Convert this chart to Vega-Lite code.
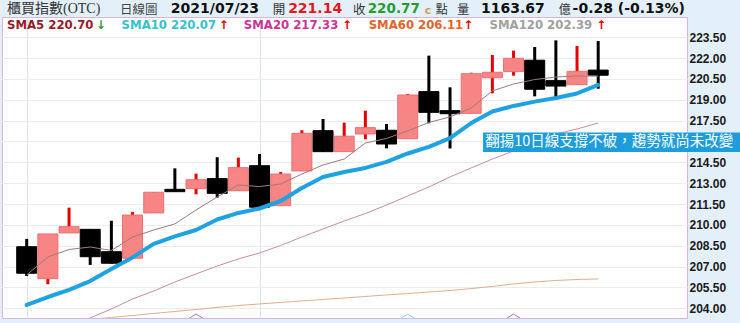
{
  "$schema": "https://vega.github.io/schema/vega-lite/v6.json",
  "width": 685,
  "height": 301,
  "autosize": {"type": "none"},
  "padding": {"left": 2, "top": 17, "right": 53, "bottom": 5},
  "background": "#e3f0f9",
  "config": {
    "view": {"stroke": "#d6b6de", "strokeWidth": 1, "fill": "white"}
  },
  "resolve": {"axis": {"x": "independent", "y": "independent"}},
  "datasets": {
    "candles": [
      {"i": 0, "open": 208.43, "high": 208.99, "low": 206.32, "close": 206.52},
      {"i": 1, "open": 206.13, "high": 209.35, "low": 205.73, "close": 209.35},
      {"i": 2, "open": 209.42, "high": 211.24, "low": 209.42, "close": 209.87},
      {"i": 3, "open": 209.68, "high": 209.68, "low": 207.12, "close": 207.71},
      {"i": 4, "open": 208.07, "high": 210.30, "low": 207.22, "close": 207.24},
      {"i": 5, "open": 207.60, "high": 210.93, "low": 207.60, "close": 210.71},
      {"i": 6, "open": 210.86, "high": 212.35, "low": 210.86, "close": 212.35},
      {"i": 7, "open": 212.56, "high": 214.07, "low": 212.39, "close": 212.39},
      {"i": 8, "open": 212.61, "high": 213.69, "low": 212.20, "close": 213.25},
      {"i": 9, "open": 213.33, "high": 214.87, "low": 211.96, "close": 212.27},
      {"i": 10, "open": 212.46, "high": 214.84, "low": 212.46, "close": 214.12},
      {"i": 11, "open": 214.26, "high": 215.10, "low": 211.07, "close": 211.27},
      {"i": 12, "open": 211.38, "high": 213.81, "low": 211.38, "close": 213.66},
      {"i": 13, "open": 213.88, "high": 216.81, "low": 213.88, "close": 216.59},
      {"i": 14, "open": 216.78, "high": 217.62, "low": 215.25, "close": 215.27},
      {"i": 15, "open": 215.27, "high": 217.36, "low": 215.27, "close": 216.38},
      {"i": 16, "open": 216.54, "high": 218.22, "low": 216.16, "close": 217.00},
      {"i": 17, "open": 216.81, "high": 217.26, "low": 215.51, "close": 215.82},
      {"i": 18, "open": 216.20, "high": 219.42, "low": 216.20, "close": 219.35},
      {"i": 19, "open": 219.59, "high": 222.18, "low": 217.31, "close": 218.10},
      {"i": 20, "open": 218.22, "high": 219.90, "low": 215.50, "close": 218.00},
      {"i": 21, "open": 218.03, "high": 220.95, "low": 218.03, "close": 220.88},
      {"i": 22, "open": 220.59, "high": 222.23, "low": 219.47, "close": 220.98},
      {"i": 23, "open": 221.03, "high": 222.54, "low": 220.74, "close": 221.99},
      {"i": 24, "open": 221.85, "high": 222.80, "low": 219.25, "close": 219.76},
      {"i": 25, "open": 220.38, "high": 223.28, "low": 218.99, "close": 219.99},
      {"i": 26, "open": 220.09, "high": 222.87, "low": 220.09, "close": 221.05},
      {"i": 27, "open": 221.14, "high": 223.23, "low": 219.80, "close": 220.77}
    ],
    "sma": [
      {"i": 0, "sma5": 206.40, "sma10": 204.24, "sma20": 201.00, "sma60": 202.73},
      {"i": 1, "sma5": 207.69, "sma10": 204.81, "sma20": 201.72, "sma60": 202.87},
      {"i": 2, "sma5": 208.23, "sma10": 205.32, "sma20": 202.51, "sma60": 203.01},
      {"i": 3, "sma5": 208.41, "sma10": 205.96, "sma20": 203.30, "sma60": 203.19},
      {"i": 4, "sma5": 208.16, "sma10": 206.83, "sma20": 203.95, "sma60": 203.34},
      {"i": 5, "sma5": 209.13, "sma10": 207.66, "sma20": 204.67, "sma60": 203.48},
      {"i": 6, "sma5": 209.63, "sma10": 208.63, "sma20": 205.24, "sma60": 203.63},
      {"i": 7, "sma5": 210.07, "sma10": 209.17, "sma20": 205.89, "sma60": 203.77},
      {"i": 8, "sma5": 211.07, "sma10": 209.63, "sma20": 206.47, "sma60": 203.91},
      {"i": 9, "sma5": 212.01, "sma10": 210.39, "sma20": 207.04, "sma60": 204.06},
      {"i": 10, "sma5": 212.87, "sma10": 210.86, "sma20": 207.55, "sma60": 204.20},
      {"i": 11, "sma5": 212.76, "sma10": 211.18, "sma20": 207.98, "sma60": 204.31},
      {"i": 12, "sma5": 212.94, "sma10": 211.72, "sma20": 208.52, "sma60": 204.42},
      {"i": 13, "sma5": 213.66, "sma10": 212.66, "sma20": 209.13, "sma60": 204.53},
      {"i": 14, "sma5": 214.31, "sma10": 213.45, "sma20": 209.71, "sma60": 204.63},
      {"i": 15, "sma5": 214.74, "sma10": 213.81, "sma20": 210.28, "sma60": 204.74},
      {"i": 16, "sma5": 215.89, "sma10": 214.10, "sma20": 210.82, "sma60": 204.85},
      {"i": 17, "sma5": 216.22, "sma10": 214.53, "sma20": 211.43, "sma60": 204.96},
      {"i": 18, "sma5": 216.76, "sma10": 215.14, "sma20": 212.08, "sma60": 205.06},
      {"i": 19, "sma5": 217.37, "sma10": 215.61, "sma20": 212.73, "sma60": 205.17},
      {"i": 20, "sma5": 217.77, "sma10": 216.25, "sma20": 213.45, "sma60": 205.28},
      {"i": 21, "sma5": 218.41, "sma10": 217.33, "sma20": 214.10, "sma60": 205.42},
      {"i": 22, "sma5": 219.64, "sma10": 218.16, "sma20": 214.74, "sma60": 205.57},
      {"i": 23, "sma5": 220.14, "sma10": 218.56, "sma20": 215.32, "sma60": 205.75},
      {"i": 24, "sma5": 220.46, "sma10": 218.87, "sma20": 215.97, "sma60": 205.89},
      {"i": 25, "sma5": 220.64, "sma10": 219.13, "sma20": 216.54, "sma60": 206.00},
      {"i": 26, "sma5": 220.72, "sma10": 219.46, "sma20": 216.90, "sma60": 206.07},
      {"i": 27, "sma5": 220.70, "sma10": 220.07, "sma20": 217.33, "sma60": 206.11}
    ],
    "signals": [
      {"i": 8, "kind": "a"},
      {"i": 18, "kind": "b"},
      {"i": 23, "kind": "a"}
    ]
  },
  "layer": [
    {
      "data": {"values": [{}]},
      "mark": {"type": "rule", "color": "#ececec", "strokeWidth": 1},
      "encoding": {
        "y": {"datum": 216, "type": "quantitative", "axis": null}
      }
    },
    {
      "data": {"name": "candles"},
      "mark": {"type": "rule", "strokeWidth": 3},
      "encoding": {
        "x": {"field": "i", "type": "quantitative",
          "scale": {"domain": [-0.931, 30.959], "nice": false, "zero": false},
          "axis": {"values": [0, 11], "labels": false, "ticks": false, "domain": false, "title": null, "grid": true, "gridColor": "#dde3ea", "gridWidth": 1}},
        "y": {"field": "low", "type": "quantitative",
          "scale": {"domain": [203.30, 224.96], "nice": false, "zero": false},
          "axis": {"orient": "right", "values": [204, 205.5, 207, 208.5, 210, 211.5, 213, 214.5, 217.5, 219, 220.5, 222, 223.5],
            "format": ".2f", "title": null, "ticks": false, "domain": false, "labelPadding": 2,
            "labelFont": "Liberation Sans", "labelFontWeight": "bold", "labelFontSize": 12, "labelColor": "#1a1a1a",
            "grid": true, "gridColor": "#ececec", "gridWidth": 1}},
        "y2": {"field": "high"},
        "color": {"condition": {"test": "datum.close > datum.open", "value": "#e60000"}, "value": "#000000"}
      }
    },
    {
      "data": {"name": "candles"},
      "mark": {"type": "bar", "size": 20, "orient": "vertical", "strokeWidth": 1},
      "encoding": {
        "x": {"field": "i", "type": "quantitative", "axis": null},
        "y": {"field": "open", "type": "quantitative", "axis": null},
        "y2": {"field": "close"},
        "fill": {"condition": {"test": "datum.close > datum.open", "value": "#f88585"}, "value": "#000000"},
        "stroke": {"condition": {"test": "datum.close > datum.open", "value": "#ec7070"}, "value": "#000000"}
      }
    },
    {
      "data": {"name": "sma"},
      "mark": {"type": "line", "clip": true, "strokeWidth": 1, "color": "#e3ad88"},
      "encoding": {
        "x": {"field": "i", "type": "quantitative", "axis": null},
        "y": {"field": "sma60", "type": "quantitative", "axis": null}
      }
    },
    {
      "data": {"name": "sma"},
      "mark": {"type": "line", "clip": true, "strokeWidth": 1, "color": "#c98aaa"},
      "encoding": {
        "x": {"field": "i", "type": "quantitative", "axis": null},
        "y": {"field": "sma20", "type": "quantitative", "axis": null}
      }
    },
    {
      "data": {"name": "sma"},
      "mark": {"type": "line", "clip": true, "strokeWidth": 1, "color": "#9c7c7c"},
      "encoding": {
        "x": {"field": "i", "type": "quantitative", "axis": null},
        "y": {"field": "sma5", "type": "quantitative", "axis": null}
      }
    },
    {
      "data": {"name": "sma"},
      "mark": {"type": "line", "clip": true, "strokeWidth": 4, "strokeCap": "round", "strokeJoin": "round", "color": "#1ea2e2"},
      "encoding": {
        "x": {"field": "i", "type": "quantitative", "axis": null},
        "y": {"field": "sma10", "type": "quantitative", "axis": null}
      }
    },
    {
      "data": {"name": "signals"},
      "mark": {"type": "point", "clip": true, "shape": "M-1,0L0,-0.6L1,0", "size": 169, "filled": false, "strokeWidth": 1, "opacity": 1},
      "encoding": {
        "x": {"field": "i", "type": "quantitative", "axis": null},
        "y": {"datum": 203.30, "type": "quantitative", "axis": null},
        "stroke": {"condition": {"test": "datum.kind == 'a'", "value": "#a8789c"}, "value": "#8fcbe6"}
      }
    },
    {
      "data": {"values": [{}]},
      "mark": {"type": "rect", "color": "#1d9ddc"},
      "encoding": {
        "x": {"datum": 21.56, "type": "quantitative", "axis": null},
        "x2": {"datum": 40},
        "y": {"datum": 216.65, "type": "quantitative", "axis": null},
        "y2": {"datum": 215.25}
      }
    },
    {
      "data": {"values": [{}]},
      "mark": {"type": "text", "text": "翻揚10日線支撐不破，趨勢就尚未改變", "align": "left", "baseline": "middle", "font": "Noto Sans CJK TC", "fontSize": 14.5, "color": "#ffffff"},
      "encoding": {
        "x": {"datum": 21.66, "type": "quantitative", "axis": null},
        "y": {"datum": 215.94, "type": "quantitative", "axis": null}
      }
    },
    {
      "data": {"values": [{}]},
      "mark": {"type": "text", "text": "櫃買指數(OTC)", "align": "left", "baseline": "middle", "font": "Liberation Serif, Noto Sans CJK TC", "fontSize": 14, "color": "#333333"},
      "encoding": {"x": {"datum": -0.931, "type": "quantitative", "axis": null}, "y": {"datum": 225.50, "type": "quantitative", "axis": null}}
    },
    {
      "data": {"values": [{}]},
      "mark": {"type": "text", "text": "日線圖", "align": "left", "baseline": "middle", "font": "Noto Sans CJK TC", "fontSize": 12.5, "color": "#444444"},
      "encoding": {"x": {"datum": 4.409, "type": "quantitative", "axis": null}, "y": {"datum": 225.48, "type": "quantitative", "axis": null}}
    },
    {
      "data": {"values": [{}]},
      "mark": {"type": "text", "text": "2021/07/23", "align": "left", "baseline": "middle", "font": "DejaVu Sans", "fontWeight": "bold", "fontSize": 14, "color": "#111111"},
      "encoding": {"x": {"datum": 6.811, "type": "quantitative", "axis": null}, "y": {"datum": 225.50, "type": "quantitative", "axis": null}}
    },
    {
      "data": {"values": [{}]},
      "mark": {"type": "text", "text": "開", "align": "left", "baseline": "middle", "font": "Noto Sans CJK TC", "fontSize": 12.5, "color": "#333333"},
      "encoding": {"x": {"datum": 11.625, "type": "quantitative", "axis": null}, "y": {"datum": 225.48, "type": "quantitative", "axis": null}}
    },
    {
      "data": {"values": [{}]},
      "mark": {"type": "text", "text": "221.14", "align": "left", "baseline": "middle", "font": "DejaVu Sans", "fontWeight": "bold", "fontSize": 14, "color": "#e8141e"},
      "encoding": {"x": {"datum": 12.351, "type": "quantitative", "axis": null}, "y": {"datum": 225.50, "type": "quantitative", "axis": null}}
    },
    {
      "data": {"values": [{}]},
      "mark": {"type": "text", "text": "收", "align": "left", "baseline": "middle", "font": "Noto Sans CJK TC", "fontSize": 12.5, "color": "#333333"},
      "encoding": {"x": {"datum": 15.41, "type": "quantitative", "axis": null}, "y": {"datum": 225.48, "type": "quantitative", "axis": null}}
    },
    {
      "data": {"values": [{}]},
      "mark": {"type": "text", "text": "220.77", "align": "left", "baseline": "middle", "font": "DejaVu Sans", "fontWeight": "bold", "fontSize": 13.5, "color": "#2a9a34"},
      "encoding": {"x": {"datum": 16.11, "type": "quantitative", "axis": null}, "y": {"datum": 225.50, "type": "quantitative", "axis": null}}
    },
    {
      "data": {"values": [{}]},
      "mark": {"type": "text", "text": "c", "align": "left", "baseline": "middle", "font": "DejaVu Sans", "fontWeight": "bold", "fontSize": 11, "color": "#c8a064"},
      "encoding": {"x": {"datum": 18.80, "type": "quantitative", "axis": null}, "y": {"datum": 225.42, "type": "quantitative", "axis": null}}
    },
    {
      "data": {"values": [{}]},
      "mark": {"type": "text", "text": "點", "align": "left", "baseline": "middle", "font": "Noto Sans CJK TC", "fontSize": 12, "color": "#333333"},
      "encoding": {"x": {"datum": 19.32, "type": "quantitative", "axis": null}, "y": {"datum": 225.48, "type": "quantitative", "axis": null}}
    },
    {
      "data": {"values": [{}]},
      "mark": {"type": "text", "text": "量", "align": "left", "baseline": "middle", "font": "Noto Sans CJK TC", "fontSize": 12, "color": "#333333"},
      "encoding": {"x": {"datum": 20.34, "type": "quantitative", "axis": null}, "y": {"datum": 225.48, "type": "quantitative", "axis": null}}
    },
    {
      "data": {"values": [{}]},
      "mark": {"type": "text", "text": "1163.67", "align": "left", "baseline": "middle", "font": "DejaVu Sans", "fontWeight": "bold", "fontSize": 14, "color": "#111111"},
      "encoding": {"x": {"datum": 21.46, "type": "quantitative", "axis": null}, "y": {"datum": 225.50, "type": "quantitative", "axis": null}}
    },
    {
      "data": {"values": [{}]},
      "mark": {"type": "text", "text": "億", "align": "left", "baseline": "middle", "font": "Noto Sans CJK TC", "fontSize": 12, "color": "#333333"},
      "encoding": {"x": {"datum": 25.14, "type": "quantitative", "axis": null}, "y": {"datum": 225.48, "type": "quantitative", "axis": null}}
    },
    {
      "data": {"values": [{}]},
      "mark": {"type": "text", "text": "-0.28 (-0.13%)", "align": "left", "baseline": "middle", "font": "DejaVu Sans", "fontWeight": "bold", "fontSize": 14, "color": "#111111"},
      "encoding": {"x": {"datum": 25.79, "type": "quantitative", "axis": null}, "y": {"datum": 225.50, "type": "quantitative", "axis": null}}
    },
    {
      "data": {"values": [{}]},
      "mark": {"type": "text", "text": "SMA5 220.70", "align": "left", "baseline": "middle", "font": "DejaVu Sans", "fontWeight": "bold", "fontSize": 11.7, "color": "#951c2a"},
      "encoding": {"x": {"datum": -0.931, "type": "quantitative", "axis": null}, "y": {"datum": 224.385, "type": "quantitative", "axis": null}}
    },
    {
      "data": {"values": [{}]},
      "mark": {"type": "text", "text": "↓", "align": "left", "baseline": "middle", "font": "DejaVu Sans", "fontWeight": "bold", "fontSize": 12, "color": "#2a9a34"},
      "encoding": {"x": {"datum": 3.259, "type": "quantitative", "axis": null}, "y": {"datum": 224.385, "type": "quantitative", "axis": null}}
    },
    {
      "data": {"values": [{}]},
      "mark": {"type": "text", "text": "SMA10 220.07", "align": "left", "baseline": "middle", "font": "DejaVu Sans", "fontWeight": "bold", "fontSize": 11.7, "color": "#34c2cc"},
      "encoding": {"x": {"datum": 4.483, "type": "quantitative", "axis": null}, "y": {"datum": 224.385, "type": "quantitative", "axis": null}}
    },
    {
      "data": {"values": [{}]},
      "mark": {"type": "text", "text": "↑", "align": "left", "baseline": "middle", "font": "DejaVu Sans", "fontWeight": "bold", "fontSize": 12, "color": "#e60000"},
      "encoding": {"x": {"datum": 9.078, "type": "quantitative", "axis": null}, "y": {"datum": 224.385, "type": "quantitative", "axis": null}}
    },
    {
      "data": {"values": [{}]},
      "mark": {"type": "text", "text": "SMA20 217.33", "align": "left", "baseline": "middle", "font": "DejaVu Sans", "fontWeight": "bold", "fontSize": 11.7, "color": "#cc3399"},
      "encoding": {"x": {"datum": 10.256, "type": "quantitative", "axis": null}, "y": {"datum": 224.385, "type": "quantitative", "axis": null}}
    },
    {
      "data": {"values": [{}]},
      "mark": {"type": "text", "text": "↑", "align": "left", "baseline": "middle", "font": "DejaVu Sans", "fontWeight": "bold", "fontSize": 12, "color": "#e60000"},
      "encoding": {"x": {"datum": 14.898, "type": "quantitative", "axis": null}, "y": {"datum": 224.385, "type": "quantitative", "axis": null}}
    },
    {
      "data": {"values": [{}]},
      "mark": {"type": "text", "text": "SMA60 206.11", "align": "left", "baseline": "middle", "font": "DejaVu Sans", "fontWeight": "bold", "fontSize": 11.7, "color": "#e4652c"},
      "encoding": {"x": {"datum": 16.155, "type": "quantitative", "axis": null}, "y": {"datum": 224.385, "type": "quantitative", "axis": null}}
    },
    {
      "data": {"values": [{}]},
      "mark": {"type": "text", "text": "↑", "align": "left", "baseline": "middle", "font": "DejaVu Sans", "fontWeight": "bold", "fontSize": 12, "color": "#e60000"},
      "encoding": {"x": {"datum": 20.62, "type": "quantitative", "axis": null}, "y": {"datum": 224.385, "type": "quantitative", "axis": null}}
    },
    {
      "data": {"values": [{}]},
      "mark": {"type": "text", "text": "SMA120 202.39", "align": "left", "baseline": "middle", "font": "DejaVu Sans", "fontWeight": "bold", "fontSize": 11.7, "color": "#a0a0a0"},
      "encoding": {"x": {"datum": 21.867, "type": "quantitative", "axis": null}, "y": {"datum": 224.385, "type": "quantitative", "axis": null}}
    },
    {
      "data": {"values": [{}]},
      "mark": {"type": "text", "text": "↑", "align": "left", "baseline": "middle", "font": "DejaVu Sans", "fontWeight": "bold", "fontSize": 12, "color": "#e60000"},
      "encoding": {"x": {"datum": 26.91, "type": "quantitative", "axis": null}, "y": {"datum": 224.385, "type": "quantitative", "axis": null}}
    }
  ]
}
